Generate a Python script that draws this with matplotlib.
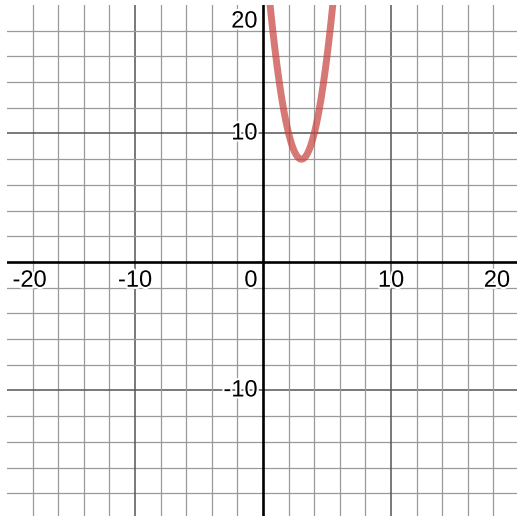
import numpy as np
import matplotlib
matplotlib.use("Agg")
import matplotlib.pyplot as plt
import matplotlib.patheffects as pe

# points
curve_x = [0.5, 1, 1.5, 2, 2.5, 3, 3.5, 4, 4.5, 5, 5.5]
curve_y = [20.5, 16, 12.5, 10, 8.5, 8, 8.5, 10, 12.5, 16, 20.5]

x_labels = [-20, -10, 10, 20]
y_labels = [-10, 10, 20]

xlim = (-20, 19.84)
ylim = (-19.77, 20)

fig = plt.figure(figsize=(5.17, 5.16), dpi=100)
ax = fig.add_axes([7 / 517, 0, 510 / 517, 511 / 516])
ax.set_xlim(xlim)
ax.set_ylim(ylim)

# grid: minor every 2, major every 10
for v in range(-18, 20, 2):
    major = v % 10 == 0
    c = "#555555" if major else "#9a9a9a"
    lw = 1.1 if major else 0.9
    if v != 0:
        ax.axvline(v, color=c, lw=lw, zorder=1)
        ax.axhline(v, color=c, lw=lw, zorder=1)
ax.axhline(0, color="black", lw=1.9, zorder=2)
ax.axvline(0, color="black", lw=1.9, zorder=2)

for s in ax.spines.values():
    s.set_visible(False)
ax.set_xticks([])
ax.set_yticks([])

# quadratic through the read points
coef = np.polyfit(curve_x, curve_y, 2)
xs = np.linspace(0, 6, 400)
ax.plot(xs, np.polyval(coef, xs), color="#c74440", alpha=0.72, lw=5,
        solid_capstyle="round", zorder=3)

font = dict(family=["Liberation Sans", "DejaVu Sans"], size=17)
halo = [pe.withStroke(linewidth=3, foreground="white")]

for t in x_labels:
    if t <= xlim[0] + 1.5:
        pos, ha, dx = xlim[0], "left", 4
    elif t >= xlim[1] - 1.5:
        pos, ha, dx = xlim[1], "right", -5
    else:
        pos, ha, dx = t, "center", 0
    ax.annotate(str(t), (pos, 0), xytext=(dx, -13.5), textcoords="offset points",
                ha=ha, va="center", path_effects=halo, zorder=4, **font)

ax.annotate("0", (0, 0), xytext=(-4, -13.5), textcoords="offset points",
            ha="right", va="center", path_effects=halo, zorder=4, **font)

for t in y_labels:
    if t >= ylim[1] - 1.5:
        pos, va, dy = ylim[1], "top", -4
    else:
        pos, va, dy = t, "center", 0
    ax.annotate(str(t), (0, pos), xytext=(-4, dy), textcoords="offset points",
                ha="right", va=va, path_effects=halo, zorder=4, **font)

fig.savefig("out.png", dpi=100)
